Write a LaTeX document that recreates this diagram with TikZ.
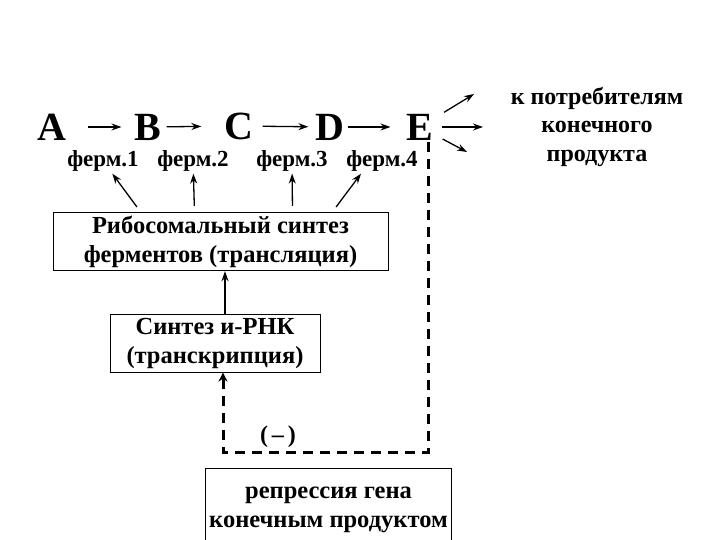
\documentclass[tikz,border=0pt]{standalone}
\usepackage{fontspec}
\setmainfont{Liberation Serif}
\usetikzlibrary{arrows.meta}

\begin{document}
\begin{tikzpicture}[x=1pt, y=-1pt,
    letter/.style={font=\fontsize{40}{40}\selectfont\bfseries, inner sep=2pt},
    ferm/.style={font=\fontsize{23}{23}\selectfont\bfseries, inner sep=2pt},
    box/.style={draw, line width=1pt, align=center, font=\fontsize{24.5}{29}\selectfont\bfseries},
    react/.style={line width=1.3pt, -{Stealth[length=10pt, width=7pt]}},
    fb/.style={line width=3pt, dash pattern=on 10pt off 7pt, -{Stealth[length=9pt, width=9pt]}}]
    \useasboundingbox (0,0) rectangle (720,540);

    % Pathway A -> E
    \node (A) at (52,127) [letter] {A};
    \node (B) at (148,127) [letter] {B};
    \node (C) at (239,126) [letter] {C};
    \node (D) at (330,127) [letter] {D};
    \node (E) at (420,127) [letter] {E};
    \draw[react, shorten <=19pt, shorten >=11pt] (A) -- (B);
    \draw[react, shorten <=3pt, shorten >=21pt] (B) -- (C);
    \draw[react, shorten <=7pt, shorten >=5pt] (C) -- (D);
    \draw[react, shorten <=1pt, shorten >=14pt] (D) -- (E);

    % Outflow of end product
    \coordinate (o1) at (474,94);
    \coordinate (o2) at (483,127);
    \coordinate (o3) at (467,152);
    \draw[react, shorten <=10pt] (E) -- (o1);
    \draw[react, shorten <=6pt] (E) -- (o2);
    \draw[react, shorten <=8pt] (E) -- (o3);
    \node (cons) at (597,127) [align=center, font=\fontsize{24}{28.5}\selectfont\bfseries]
        {к потребителям\\конечного\\продукта};

    % Enzymes
    \node (f1) at (103,161) [ferm] {ферм.1};
    \node (f2) at (193,161) [ferm] {ферм.2};
    \node (f3) at (292,161) [ferm] {ферм.3};
    \node (f4) at (382,161) [ferm] {ферм.4};

    % Boxes
    \node (ribo) at (220.5,241.5) [box, minimum width=335pt, minimum height=57pt]
        {Рибосомальный синтез\\ферментов (трансляция)};
    \node (mrna) at (215,343.5) [box, minimum width=210pt, minimum height=57pt]
        {Синтез и-РНК\\(транскрипция)};
    \node (repr) at (328.5,510) [box, minimum width=243pt, minimum height=84pt]
        {репрессия гена\\конечным продуктом};

    % Enzyme synthesis
    \draw[react, shorten <=6pt] ([xshift=-80pt]ribo.north) -- (f1);
    \draw[react, shorten <=6pt] ([xshift=-26pt]ribo.north) -- (f2);
    \draw[react, shorten <=6pt] ([xshift=72pt]ribo.north) -- (f3);
    \draw[react, shorten <=6pt] ([xshift=112pt]ribo.north) -- ([xshift=-21pt]f4.south);
    \draw[react] ([xshift=10pt]mrna.north) -- ([xshift=10pt]mrna.north |- ribo.south);

    % Feedback repression
    \coordinate (turnR) at (428,452);
    \coordinate (turnL) at (223,452);
    \draw[fb] (E.south -| turnR) |- (turnL) -- (mrna.south -| turnL);
    \node (neg) at (278,437) [font=\fontsize{24}{24}\selectfont\bfseries] {(\,–\,)};
\end{tikzpicture}
\end{document}
